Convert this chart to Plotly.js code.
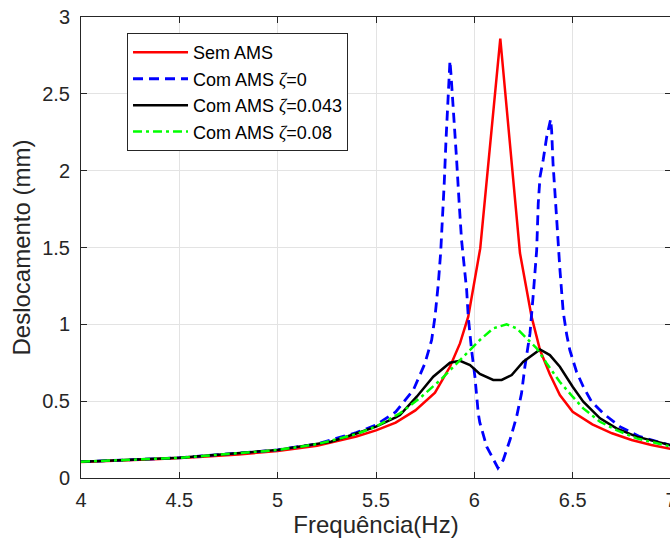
<!DOCTYPE html>
<html>
<head>
<meta charset="utf-8">
<script src="https://cdn.plot.ly/plotly-3.0.1.min.js"></script>
<style>
html,body{margin:0;padding:0;overflow:hidden;background:#fff;width:670px;height:546px;}
#chart{width:671px;height:546px;}
</style>
</head>
<body>
<div id="chart"></div>
<script>
// Sem AMS
const xSem = [4.0,4.2,4.4,4.6,4.8,5.0,5.2,5.4,5.5,5.6,5.7,5.8,5.876,5.927,5.969,6.03,6.132,6.232,6.291,6.334,6.384,6.435,6.5,6.6,6.7,6.8,6.9,7.0];
const ySem = [0.104,0.113,0.123,0.136,0.153,0.176,0.209,0.27,0.31,0.36,0.44,0.555,0.724,0.876,1.05,1.494,2.86,1.464,1.05,0.833,0.675,0.54,0.431,0.349,0.291,0.247,0.215,0.189];

// Com AMS zeta=0
const xZ0 = [4.0,4.5,5.0,5.2,5.4,5.5,5.6,5.639,5.69,5.749,5.783,5.80,5.817,5.829,5.839,5.847,5.856,5.864,5.876,5.881,5.893,5.901,5.91,5.923,5.935,5.961,5.969,5.986,6.003,6.02,6.028,6.063,6.12,6.147,6.181,6.215,6.24,6.257,6.283,6.30,6.317,6.325,6.334,6.35,6.368,6.388,6.393,6.40,6.41,6.42,6.435,6.452,6.47,6.486,6.52,6.554,6.596,6.655,6.74,6.842,7.0];
const yZ0 = [0.106,0.131,0.183,0.222,0.295,0.345,0.43,0.49,0.573,0.746,0.898,1.05,1.267,1.47,1.70,1.92,2.20,2.42,2.715,2.633,2.416,2.22,2.069,1.787,1.548,1.223,1.05,0.833,0.659,0.42,0.36,0.204,0.065,0.117,0.247,0.399,0.551,0.724,0.941,1.20,1.483,1.787,1.96,2.069,2.22,2.334,2.264,2.05,1.88,1.66,1.36,1.08,0.93,0.83,0.69,0.594,0.497,0.421,0.334,0.269,0.212];

// Com AMS zeta=0.043
const xZ043 = [4.0,4.5,5.0,5.2,5.27,5.4,5.5,5.6,5.622,5.707,5.791,5.876,5.927,5.978,6.028,6.096,6.139,6.19,6.249,6.334,6.384,6.435,6.5,6.554,6.639,6.723,6.825,7.0];
const yZ043 = [0.106,0.131,0.183,0.222,0.236,0.29,0.334,0.395,0.41,0.529,0.659,0.75,0.763,0.735,0.677,0.638,0.638,0.67,0.757,0.837,0.80,0.724,0.594,0.497,0.388,0.323,0.269,0.213];

// Com AMS zeta=0.08
const xZ08 = [4.0,4.5,5.0,5.2,5.4,5.5,5.622,5.723,5.825,5.893,5.961,6.028,6.096,6.164,6.215,6.266,6.317,6.368,6.435,6.5,6.554,6.639,6.723,6.825,7.0];
const yZ08 = [0.106,0.131,0.182,0.22,0.285,0.335,0.421,0.52,0.635,0.72,0.811,0.898,0.974,1.0,0.974,0.909,0.844,0.746,0.625,0.529,0.453,0.366,0.312,0.258,0.204];

const seriesNames = [
  'Sem AMS',
  'Com AMS <span style="font-family:\'Liberation Serif\'"><i>ζ</i></span>=0',
  'Com AMS <span style="font-family:\'Liberation Serif\'"><i>ζ</i></span>=0.043',
  'Com AMS <span style="font-family:\'Liberation Serif\'"><i>ζ</i></span>=0.08'
];
const xTicks = [4,4.5,5,5.5,6,6.5,7];
const xTickLabels = ['4','4.5','5','5.5','6','6.5','7'];
const yTicks = [0,0.5,1,1.5,2,2.5,3];
const yTickLabels = ['0','0.5','1','1.5','2','2.5','3'];

const traces = [
  {x:xSem, y:ySem, name:seriesNames[0], mode:'lines', line:{color:'#ff0000', width:2.5}},
  {x:xZ0, y:yZ0, name:seriesNames[1], mode:'lines', line:{color:'#0000ff', width:2.8, dash:'10px,6px'}},
  {x:xZ043, y:yZ043, name:seriesNames[2], mode:'lines', line:{color:'#000000', width:2.5}},
  {x:xZ08, y:yZ08, name:seriesNames[3], mode:'lines', line:{color:'#00ff00', width:2.5, dash:'9px,4px,3px,4px'}}
];

const axisCommon = {
  showgrid:true, gridcolor:'#e3e3e3', gridwidth:1,
  showline:true, linecolor:'#262626', linewidth:1, mirror:'ticks',
  ticks:'inside', ticklen:6, tickcolor:'#262626', tickwidth:1,
  zeroline:false, ticklabeloverflow:'allow',
  tickfont:{family:'Liberation Sans, Arial, sans-serif', size:20, color:'#262626'}
};

const layout = {
  width:671, height:546,
  margin:{l:81, r:0, t:17, b:68},
  paper_bgcolor:'#fff', plot_bgcolor:'#fff',
  showlegend:true,
  xaxis:Object.assign({}, axisCommon, {
    range:[4,7], tickvals:xTicks, ticktext:xTickLabels, ticklabelstandoff:4,
    title:{text:'Frequência(Hz)', font:{family:'Liberation Sans, Arial, sans-serif', size:24, color:'#262626'}, standoff:6}
  }),
  yaxis:Object.assign({}, axisCommon, {
    range:[0,3], tickvals:yTicks, ticktext:yTickLabels, ticklabelstandoff:6,
    title:{text:'Deslocamento (mm)', font:{family:'Liberation Sans, Arial, sans-serif', size:24, color:'#262626'}, standoff:4}
  }),
  legend:{
    x:0.078, y:0.965, xanchor:'left', yanchor:'top',
    bgcolor:'#ffffff', bordercolor:'#262626', borderwidth:1,
    font:{family:'Liberation Sans, Arial, sans-serif', size:18, color:'#000'},
    itemwidth:55, tracegroupgap:0
  }
};

Plotly.newPlot('chart', traces, layout, {staticPlot:true, displayModeBar:false});
</script>
</body>
</html>
